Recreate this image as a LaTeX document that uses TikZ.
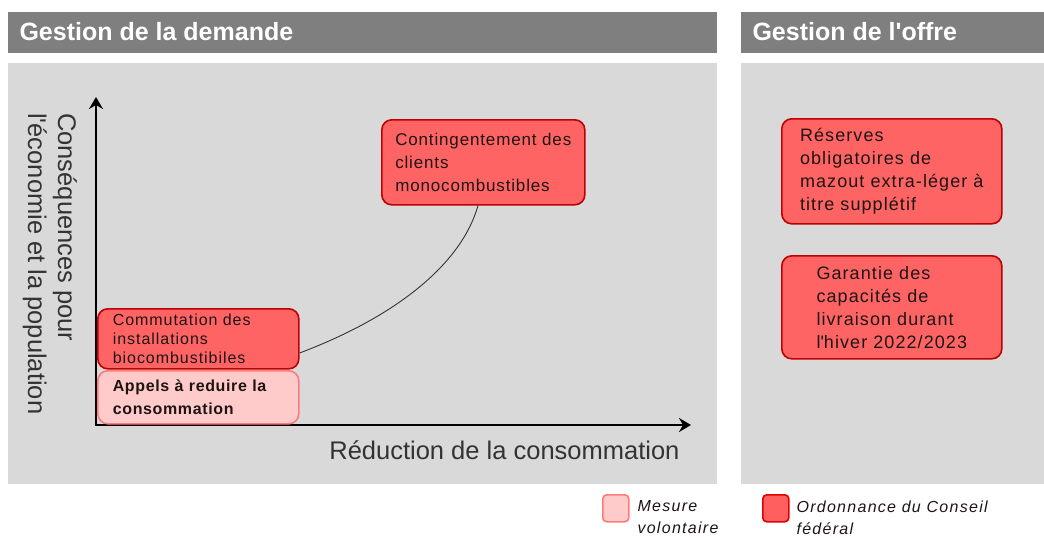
\documentclass[tikz,border=0pt]{standalone}
\usepackage{fontspec}
\setmainfont{Liberation Sans}
\newfontfamily\boxfont[LetterSpace=5]{Liberation Sans}
\newfontfamily\rboxfont[LetterSpace=6]{Liberation Sans}
\newfontfamily\sboxfont[LetterSpace=6]{Liberation Sans}
\newfontfamily\bboxfont[LetterSpace=4]{Liberation Sans}
\newfontfamily\legfont[LetterSpace=8]{Liberation Sans}
\usetikzlibrary{positioning, arrows.meta, calc}

\definecolor{hdrgray}{HTML}{7F7F7F}
\definecolor{panelgray}{HTML}{D9D9D9}
\definecolor{ordfill}{HTML}{FF6464}
\definecolor{orddraw}{HTML}{C00000}
\definecolor{volfill}{HTML}{FFCACA}
\definecolor{voldraw}{HTML}{FF7B7B}
\definecolor{boxtext}{HTML}{1E1414}

\begin{document}
\begin{tikzpicture}[
            x=1pt, y=-1pt,
            hdr/.style={fill=hdrgray, draw=none},
            hdr_text/.style={anchor=west, text=white, font=\bfseries\fontsize{25}{30}\selectfont},
            panel/.style={fill=panelgray, draw=none},
            ordonnance/.style={rectangle, rounded corners=10pt, draw=orddraw, fill=ordfill, line width=1.6pt, text=boxtext, align=left, inner xsep=15pt, inner ysep=4pt},
            volontaire/.style={rectangle, rounded corners=10pt, draw=voldraw, fill=volfill, line width=1.6pt, text=boxtext, align=left, inner xsep=15pt, inner ysep=4pt},
            axis_arrow/.style={-{Stealth[length=12pt, width=14pt, inset=4pt]}, line width=1.8pt, draw=black},
            axis_label/.style={text=black!80, font=\fontsize{25.5}{30}\selectfont},
            legend_text/.style={anchor=north west, align=left, text=boxtext, font=\legfont\itshape\fontsize{16}{22}\selectfont}
            ]

            \useasboundingbox (0,0) rectangle (1044,538);

            % Headers
            \fill[hdr] (8,12) rectangle (717,53);
            \fill[hdr] (741,12) rectangle (1044,53);
            \node[hdr_text] (hdr_demand) at (16,32) {Gestion de la demande};
            \node[hdr_text] (hdr_supply) at (749,32) {Gestion de l\textquotesingle offre};

            % Panels
            \fill[panel] (8,63) rectangle (717,484);
            \fill[panel] (741,63) rectangle (1044,484);

            % Axes
            \coordinate (origin) at (96,425);
            \coordinate (ytop) at (96,97);
            \coordinate (xend) at (691,425);
            \draw[axis_arrow] (origin) -- (ytop);
            \draw[axis_arrow] ([xshift=-0.9pt]origin) -- (xend);
            \node[axis_label, anchor=east] (xlabel) at (683,450) {Réduction de la consommation};
            \node[axis_label, rotate=-90, anchor=north west, align=left, inner sep=0pt] (ylabel) at (77,113) {Conséquences pour\\l\textquotesingle économie et la population};

            % Demand side measures
            \node[volontaire, minimum width=201pt, minimum height=53pt, text width=171pt, anchor=north west,
                  font=\bboxfont\bfseries\fontsize{16}{23}\selectfont] (appels) at (97,370) {Appels à reduire la\\consommation};
            \node[ordonnance, minimum width=201pt, minimum height=60pt, text width=171pt, anchor=north west,
                  font=\sboxfont\fontsize{16}{19}\selectfont] (commut) at (97,308) {Commutation des\\installations\\biocombustibiles};
            \node[ordonnance, minimum width=203pt, minimum height=85pt, inner xsep=8pt, anchor=north west,
                  font=\boxfont\fontsize{17}{23}\selectfont] (conting) at (381,119) {Contingentement des\\clients\\monocombustibles};

            % Curve
            \draw[black!80, line width=0.9pt] (commut.east |- 0,353) .. controls (400,315) and (462,262) .. (conting.south -| 478,0);

            % Supply side measures
            \node[ordonnance, minimum width=220pt, minimum height=105pt, anchor=north west,
                  font=\rboxfont\fontsize{18}{23}\selectfont] (reserves) at (781,118) {Réserves\\obligatoires de\\mazout extra-léger à\\titre supplétif};
            \node[ordonnance, minimum width=220pt, minimum height=103pt, anchor=north west,
                  font=\rboxfont\fontsize{18}{23}\selectfont] (garantie) at (781,255) {Garantie des\\capacités de\\livraison durant\\l\textquotesingle hiver 2022/2023};

            % Legend
            \node[volontaire, rounded corners=4pt, minimum width=26pt, minimum height=27pt, inner sep=0pt, anchor=north west] (leg_vol) at (602,494) {};
            \node[legend_text] (leg_vol_text) at (634,497) {Mesure\\volontaire};
            \node[ordonnance, rounded corners=4pt, draw=red!90!black, fill=ordfill!95!red, minimum width=26pt, minimum height=27pt, inner sep=0pt, anchor=north west] (leg_ord) at (762,494) {};
            \node[legend_text] (leg_ord_text) at (793,497) {Ordonnance du Conseil\\fédéral};

        \end{tikzpicture}
\end{document}
